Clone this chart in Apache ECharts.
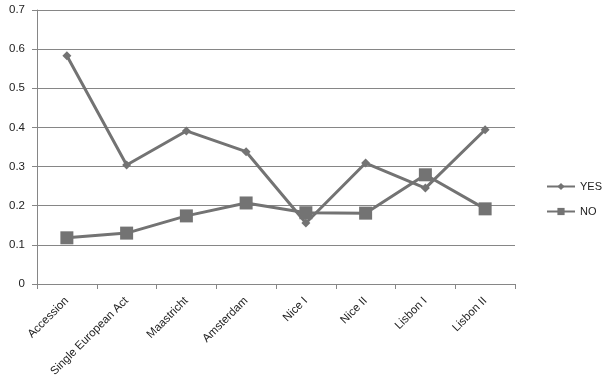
<!DOCTYPE html>
<html><head><meta charset="utf-8">
<script src="https://cdn.jsdelivr.net/npm/echarts@6/dist/echarts.min.js"></script>
<style>html,body{margin:0;padding:0;background:#fff}#c{width:604px;height:392px}</style>
</head><body><div id="c"></div>
<script>
const categories = ["Accession","Single European Act","Maastricht","Amsterdam","Nice I","Nice II","Lisbon I","Lisbon II"];
const yesValues = [0.583,0.304,0.391,0.338,0.156,0.309,0.245,0.394];
const noValues = [0.118,0.130,0.174,0.207,0.182,0.181,0.279,0.192];
const yTicks = [0,0.1,0.2,0.3,0.4,0.5,0.6,0.7];

const gray = '#737373';
const chart = echarts.init(document.getElementById('c'));
chart.setOption({
  animation:false,
  textStyle:{fontFamily:'Liberation Sans'},
  grid:{left:37,right:89,top:10,bottom:108},
  legend:{
    orient:'vertical', left:546, top:181, itemGap:14, itemWidth:28, itemHeight:9,
    padding:0,
    textStyle:{fontSize:11,color:'#222'},
    data:['YES','NO']
  },
  xAxis:{
    type:'category', data:categories, boundaryGap:true,
    axisLine:{lineStyle:{color:'#868686'}},
    axisTick:{show:true,length:5,lineStyle:{color:'#868686'}},
    axisLabel:{rotate:45,fontSize:11.5,color:'#222',margin:15}
  },
  yAxis:{
    type:'value', min:0, max:0.7, interval:0.1,
    axisLine:{show:true,lineStyle:{color:'#868686'}},
    axisTick:{show:true,length:5,lineStyle:{color:'#868686'}},
    axisLabel:{fontSize:11.5,color:'#222',margin:12,formatter:v=>{const t=yTicks.find(x=>Math.abs(x-v)<1e-9);return t===undefined?'':String(t);}},
    splitLine:{lineStyle:{color:'#868686'}}
  },
  series:[
    {name:'YES',type:'line',data:yesValues,symbol:'diamond',symbolSize:9,
     lineStyle:{color:gray,width:3},itemStyle:{color:gray}},
    {name:'NO',type:'line',data:noValues,symbol:'rect',symbolSize:13,
     lineStyle:{color:gray,width:3},itemStyle:{color:gray}}
  ]
});
</script></body></html>
